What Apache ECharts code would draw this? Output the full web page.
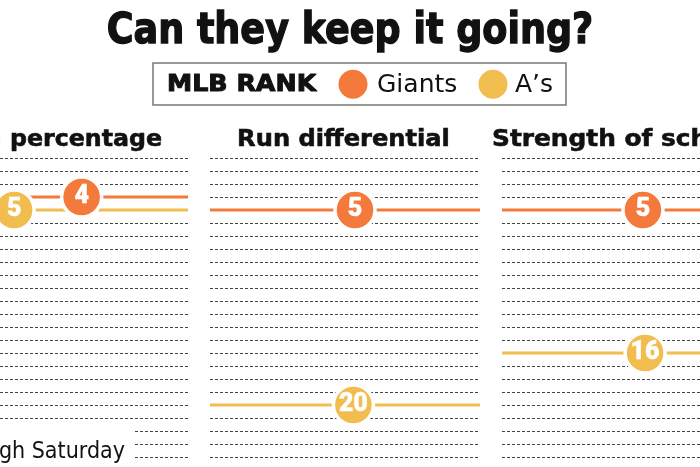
<!DOCTYPE html>
<html>
<head>
<meta charset="utf-8">
<script src="https://cdn.jsdelivr.net/npm/echarts@6/dist/echarts.min.js"></script>
<style>
html,body{margin:0;padding:0;background:#fff;}
#chart{width:700px;height:467px;}
</style>
</head>
<body>
<div id="chart"></div>
<script>
// ---- data ----
const categories = ['Winning percentage', 'Run differential', 'Strength of schedule'];
const giantsRanks = [4, 5, 5];
const asRanks = [5, 20, 16];
const rankMin = 1;
const rankMaxVisible = 24;   // ranks visible in the cropped picture
const teamNames = ['Giants', 'A\u2019s'];

// ---- layout / style (not data) ----
const W = 700;
const panelLeft = [-82, 210, 502];
const panelWidth = 270;
const gridTop = 158;
const rowStep = 13;
const giantsMarkerX = [0.606, 0.537, 0.522];
const asMarkerX = [0.356, 0.531, 0.530];
const colGiants = '#f47a3c';
const colAs = '#f2bd4f';

const chart = echarts.init(document.getElementById('chart'), null, {renderer: 'canvas'});

const grids = [], xAxes = [], yAxes = [], series = [];
categories.forEach((c, i) => {
  const visL = Math.max(0, panelLeft[i]);
  const visR = Math.min(W, panelLeft[i] + panelWidth);
  grids.push({left: visL, width: visR - visL, top: gridTop, height: (rankMaxVisible - rankMin) * rowStep});
  xAxes.push({type: 'value', gridIndex: i,
    min: (visL - panelLeft[i]) / panelWidth, max: (visR - panelLeft[i]) / panelWidth, show: false});
  yAxes.push({
    type: 'value', gridIndex: i, inverse: true, min: rankMin, max: rankMaxVisible, interval: 1,
    axisLine: {show: false}, axisTick: {show: false}, axisLabel: {show: false},
    splitLine: {show: true, lineStyle: {color: '#444', width: 1, type: [3, 2]}}
  });
  const teams = [
    {rank: giantsRanks[i], color: colGiants, mx: giantsMarkerX[i]},
    {rank: asRanks[i], color: colAs, mx: asMarkerX[i]}
  ];
  teams.forEach((t) => {
    series.push({
      type: 'line', xAxisIndex: i, yAxisIndex: i, symbol: 'none', silent: true,
      data: [[0, t.rank], [1, t.rank]],
      lineStyle: {color: t.color, width: 3}, z: 3, animation: false
    });
  });
  teams.forEach((t) => {
    series.push({
      type: 'scatter', xAxisIndex: i, yAxisIndex: i, symbol: 'circle', symbolSize: 40,
      data: [[t.mx, t.rank]], clip: false,
      itemStyle: {color: t.color, borderColor: '#fff', borderWidth: 3.5, opacity: 1},
      label: {show: true, position: 'inside', formatter: String(t.rank), color: '#fff',
        fontFamily: 'Roboto', fontWeight: 900, fontSize: 25,
        textBorderColor: '#fff', textBorderWidth: 0.4},
      z: 5, animation: false
    });
  });
});

const boldFont = 'DejaVu Sans';
const graphic = [
  {type: 'text', x: 350, y: 32, scaleX: 0.87, z: 10,
    style: {text: 'Can they keep it going?', fontFamily: boldFont, fontWeight: 'bold', fontSize: 42,
      fill: '#111', stroke: '#111', lineWidth: 1.4, textAlign: 'center', textVerticalAlign: 'middle'}},
  {type: 'rect', shape: {x: 153, y: 63, width: 413, height: 42}, z: 10,
    style: {fill: '#fff', stroke: '#777', lineWidth: 1.5}},
  {type: 'text', x: 167, y: 85, scaleX: 1.1, z: 11,
    style: {text: 'MLB RANK', fontFamily: boldFont, fontWeight: 'bold', fontSize: 23,
      fill: '#111', stroke: '#111', lineWidth: 1, textAlign: 'left', textVerticalAlign: 'middle'}},
  {type: 'circle', shape: {cx: 353, cy: 84.3, r: 14.5}, z: 11, style: {fill: colGiants}},
  {type: 'text', x: 377, y: 85, z: 11,
    style: {text: teamNames[0], fontFamily: 'DejaVu Sans', fontSize: 25,
      fill: '#111', textAlign: 'left', textVerticalAlign: 'middle'}},
  {type: 'circle', shape: {cx: 493, cy: 84.3, r: 14.5}, z: 11, style: {fill: colAs}},
  {type: 'text', x: 515, y: 85, z: 11,
    style: {text: teamNames[1], fontFamily: 'DejaVu Sans', fontSize: 25,
      fill: '#111', textAlign: 'left', textVerticalAlign: 'middle'}},
  // panel titles
  {type: 'text', x: 162, y: 140.5, scaleX: 1.03, z: 11,
    style: {text: categories[0], fontFamily: boldFont, fontWeight: 'bold', fontSize: 23,
      fill: '#111', stroke: '#111', lineWidth: 0.6, textAlign: 'right', textVerticalAlign: 'middle'}},
  {type: 'text', x: 343.5, y: 140.5, scaleX: 1.05, z: 11,
    style: {text: categories[1], fontFamily: boldFont, fontWeight: 'bold', fontSize: 23,
      fill: '#111', stroke: '#111', lineWidth: 0.6, textAlign: 'center', textVerticalAlign: 'middle'}},
  {type: 'text', x: 492, y: 140.5, scaleX: 1.08, z: 11,
    style: {text: categories[2], fontFamily: boldFont, fontWeight: 'bold', fontSize: 23,
      fill: '#111', stroke: '#111', lineWidth: 0.6, textAlign: 'left', textVerticalAlign: 'middle'}},
  // footer note
  {type: 'rect', shape: {x: 0, y: 425, width: 134, height: 50}, z: 10, style: {fill: '#fff'}},
  {type: 'text', x: 125, y: 452, scaleX: 0.9, z: 11,
    style: {text: 'Through Saturday', fontFamily: 'DejaVu Sans', fontSize: 23,
      fill: '#111', textAlign: 'right', textVerticalAlign: 'middle'}}
];

chart.setOption({
  animation: false,
  backgroundColor: '#fff',
  grid: grids,
  xAxis: xAxes,
  yAxis: yAxes,
  series: series,
  graphic: graphic
});
</script>
</body>
</html>
